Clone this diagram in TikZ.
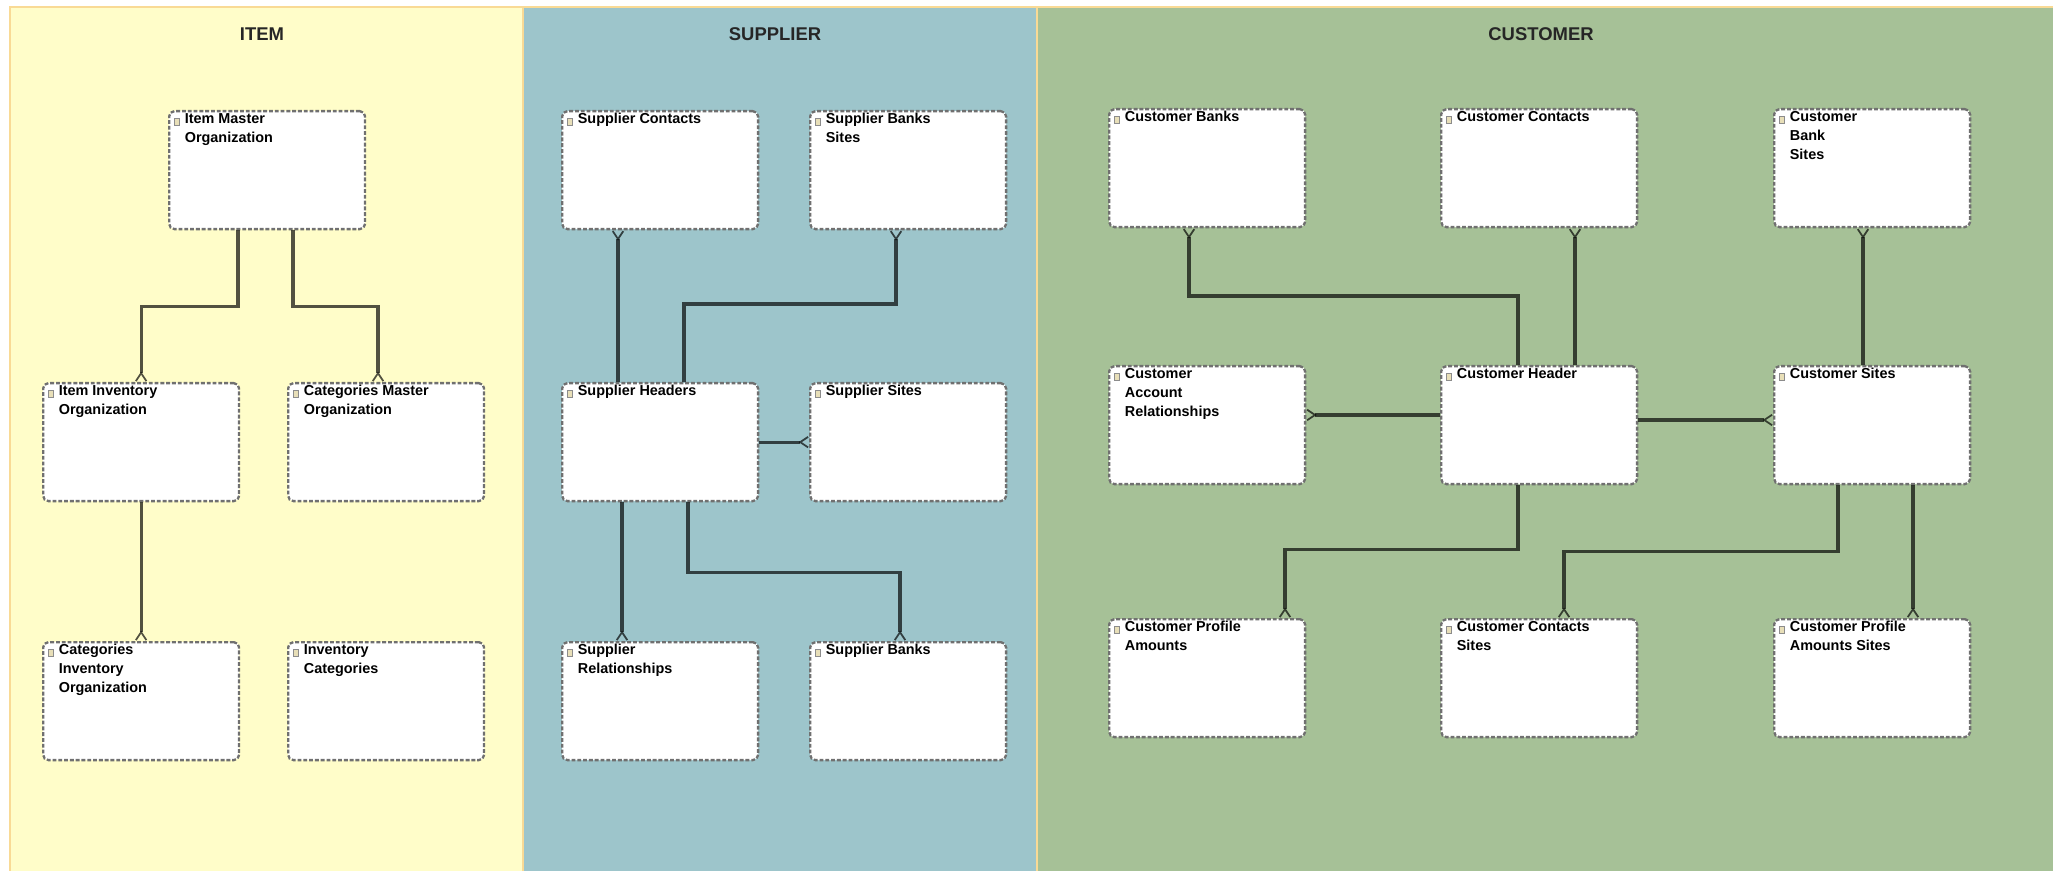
\documentclass[tikz,border=0pt]{standalone}
\usepackage{fontspec}
\setmainfont{Liberation Sans}
\usetikzlibrary{arrows.meta,calc}

\definecolor{itembg}{HTML}{FFFDC9}
\definecolor{suppbg}{HTML}{9DC5CB}
\definecolor{custbg}{HTML}{A6C197}
\definecolor{edgeline}{HTML}{F9DA95}
\definecolor{boxline}{HTML}{707070}
\definecolor{iconfill}{HTML}{E8DFB8}

\begin{document}
\begin{tikzpicture}[x=0.02cm, y=-0.02cm,
    ent/.style = {draw=boxline, fill=white, line width=1.3pt, dash pattern=on 2.2pt off 1.1pt,
        rounded corners=3pt, minimum width=3.92cm, minimum height=2.36cm, anchor=north west,
        inner sep=0pt,
        path picture={\draw[solid, sharp corners, line width=0.3pt, draw=black!45, fill=iconfill]
            ($(path picture bounding box.north west)+(5,7)$) rectangle ++(5,7);}},
    lbl/.style = {anchor=north west, align=left, inner xsep=9.6pt, inner ysep=2pt, outer sep=0pt,
        font=\fontsize{8.2}{10.8}\selectfont\bfseries},
    rel/.style = {line width=1.75pt, draw=black, draw opacity=0.68,
        -{Straight Barb[reversed, length=4.5pt, width=6pt, line width=1pt]}},
    title/.style = {font=\fontsize{10.5}{12}\selectfont\bfseries, text=black!85}]
    \useasboundingbox (0,0) rectangle (2053,871);

    % Sfondi delle tre aree
    \fill[itembg] (10,7) rectangle (523,880);
    \fill[suppbg] (523,7) rectangle (1037,880);
    \fill[custbg] (1037,7) rectangle (2060,880);
    \draw[edgeline, line width=1.5pt] (10,880) -- (10,7) -- (2060,7);
    \draw[edgeline, line width=1.5pt] (523,7) -- (523,880);
    \draw[edgeline, line width=1.5pt] (1037,7) -- (1037,880);

    \node[title] (titem) at (262,34) {ITEM};
    \node[title] (tsupp) at (775,34) {SUPPLIER};
    \node[title] (tcust) at (1541,34) {CUSTOMER};

    % Tabelle
    \node[ent, label={[lbl]north west:{Item Master\\Organization}}] (im) at (168,110) {};
    \node[ent, label={[lbl]north west:{Item Inventory\\Organization}}] (ii) at (42,382) {};
    \node[ent, label={[lbl]north west:{Categories Master\\Organization}}] (cm) at (287,382) {};
    \node[ent, label={[lbl]north west:{Categories\\Inventory\\Organization}}] (ci) at (42,641) {};
    \node[ent, label={[lbl]north west:{Inventory\\Categories}}] (ic) at (287,641) {};

    \node[ent, label={[lbl]north west:{Supplier Contacts}}] (sc) at (561,110) {};
    \node[ent, label={[lbl]north west:{Supplier Banks\\Sites}}] (sbs) at (809,110) {};
    \node[ent, label={[lbl]north west:{Supplier Headers}}] (sh) at (561,382) {};
    \node[ent, label={[lbl]north west:{Supplier Sites}}] (ss) at (809,382) {};
    \node[ent, label={[lbl]north west:{Supplier\\Relationships}}] (sr) at (561,641) {};
    \node[ent, label={[lbl]north west:{Supplier Banks}}] (sb) at (809,641) {};

    \node[ent, label={[lbl]north west:{Customer Banks}}] (cb) at (1108,108) {};
    \node[ent, label={[lbl]north west:{Customer Contacts}}] (cc) at (1440,108) {};
    \node[ent, label={[lbl]north west:{Customer\\Bank\\Sites}}] (cbs) at (1773,108) {};
    \node[ent, label={[lbl]north west:{Customer\\Account\\Relationships}}] (car) at (1108,365) {};
    \node[ent, label={[lbl]north west:{Customer Header}}] (ch) at (1440,365) {};
    \node[ent, label={[lbl]north west:{Customer Sites}}] (cs) at (1773,365) {};
    \node[ent, label={[lbl]north west:{Customer Profile\\Amounts}}] (cpa) at (1108,618) {};
    \node[ent, label={[lbl]north west:{Customer Contacts\\Sites}}] (ccs) at (1440,618) {};
    \node[ent, label={[lbl]north west:{Customer Profile\\Amounts Sites}}] (cpas) at (1773,618) {};

    % Relazioni
    \draw[rel] ($(im.south west)+(70,0)$) -- ++(0,76) -| (ii.north);
    \draw[rel] ($(im.south west)+(125,0)$) -- ++(0,76) -| ($(cm.north west)+(91,0)$);
    \draw[rel] (ii.south) -- (ci.north);

    \draw[rel] ($(sh.north west)+(57,0)$) -- ($(sc.south west)+(57,0)$);
    \draw[rel] ($(sh.north west)+(123,0)$) -- ++(0,-78) -| ($(sbs.south west)+(87,0)$);
    \draw[rel] (sh.east) -- (ss.west);
    \draw[rel] ($(sh.south west)+(61,0)$) -- ($(sr.north west)+(61,0)$);
    \draw[rel] ($(sh.south west)+(127,0)$) -- ++(0,70) -| ($(sb.north west)+(91,0)$);

    \draw[rel] ($(ch.north west)+(78,0)$) -- ++(0,-69) -| ($(cb.south west)+(81,0)$);
    \draw[rel] ($(ch.north west)+(135,0)$) -- ($(cc.south west)+(135,0)$);
    \draw[rel] ($(cs.north west)+(90,0)$) -- ($(cbs.south west)+(90,0)$);
    \draw[rel] ($(ch.north west)+(0,50)$) -- ($(car.north east)+(0,50)$);
    \draw[rel] ($(ch.north east)+(0,55)$) -- ($(cs.north west)+(0,55)$);
    \draw[rel] ($(ch.south west)+(78,0)$) -- ++(0,64) -| ($(cpa.north west)+(177,0)$);
    \draw[rel] ($(cs.south west)+(65,0)$) -- ++(0,66) -| ($(ccs.north west)+(124,0)$);
    \draw[rel] ($(cs.south west)+(140,0)$) -- ($(cpas.north west)+(140,0)$);

\end{tikzpicture}
\end{document}
